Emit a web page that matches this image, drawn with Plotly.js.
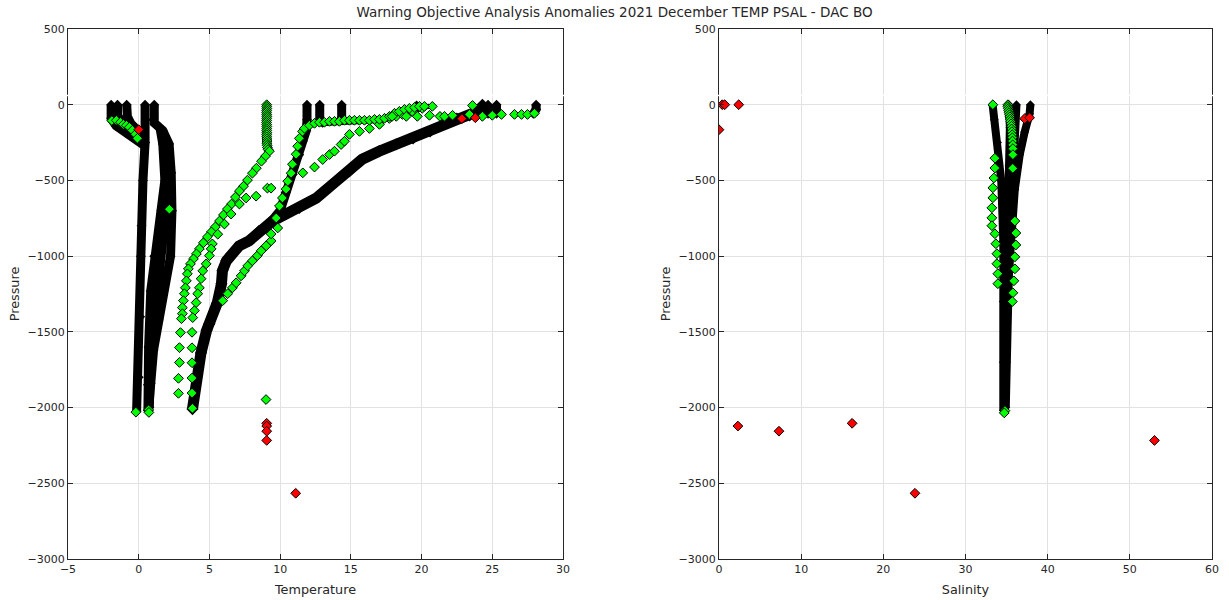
<!DOCTYPE html>
<html>
<head>
<meta charset="utf-8">
<script src="https://cdn.plot.ly/plotly-3.0.1.min.js"></script>
<style>
  html, body { margin: 0; padding: 0; background: #fff; }
  #chart { width: 1229px; height: 600px; }
</style>
</head>
<body>
<div id="chart"></div>
<script>
// ---------- Temperature profiles (black, dense float profiles) ----------
const coldA_T = [0.45, 0.5, 0.45, 0.3, 0.2, 0.15, 0.1, 0.0, -0.15];
const coldA_P = [0, -100, -250, -500, -800, -1000, -1400, -1800, -2025];
const coldB_T = [1.1, 1.1, 1.7, 2.15, 2.3, 2.35, 2.25, 1.75, 1.4, 1.05, 0.85, 0.7];
const coldB_P = [0, -120, -170, -260, -450, -700, -1000, -1230, -1420, -1620, -1840, -2020];
const coldC_T = [1.5, 1.7, 1.85, 1.6, 1.1, 0.85, 0.7, 0.65, 0.65];
const coldC_P = [-150, -260, -500, -700, -1000, -1230, -1600, -1850, -2020];
const coldD_T = [2.0, 2.05, 1.7, 1.3, 1.0, 0.8, 0.75];
const coldD_P = [-300, -600, -900, -1200, -1500, -1800, -2000];
const lobe1_T = [-1.95, -1.95, -1.6, -0.9, -0.1, 0.4];
const lobe1_P = [0, -90, -140, -185, -225, -270];
const lobe2_T = [-1.5, -1.5, -1.2];
const lobe2_P = [0, -70, -120];
const lobe3_T = [-0.85, -0.8, -0.55, -0.1, 0.35];
const lobe3_P = [0, -80, -125, -165, -210];

const warmA_T = [3.8, 4.05, 4.4, 4.8, 5.0, 5.55, 5.85, 5.92, 6.2, 6.55, 7.1, 7.8, 8.5, 9.45, 10.4, 11.35, 12.55, 13.7, 14.9, 15.8, 17.0, 18.2, 19.4, 20.6, 21.7, 22.5, 23.4, 24.3, 24.3];
const warmA_P = [-2010, -1820, -1640, -1490, -1447, -1310, -1183, -1097, -1031, -986, -932, -899, -834, -768, -722, -682, -617, -526, -439, -360, -307, -261, -222, -176, -124, -91, -70, -30, 0];
const warmB_T = [7.8, 9.2, 10.0, 10.4, 10.9, 11.35, 11.6, 11.85, 11.9, 11.9];
const warmB_P = [-900, -790, -700, -580, -460, -330, -240, -170, -100, 0];
const warmC_T = [12.9, 14.0, 15.5, 17.0, 17.8, 18.8, 19.8, 20.5];
const warmC_P = [-125, -118, -112, -105, -90, -55, -30, -10];

const stub1_T = [12.8, 12.8, 13.0];   const stub1_P = [0, -100, -120];
const stub2_T = [14.35, 14.35];       const stub2_P = [0, -85];
const stub3_T = [24.7, 24.7];         const stub3_P = [0, -60];
const stub4_T = [25.3, 25.3];         const stub4_P = [0, -60];
const stub5_T = [27.9, 28.1, 28.1];   const stub5_P = [-60, -30, 0];
const stub6_T = [19.65];              const stub6_P = [-5];

// ---------- Temperature: flagged (green) levels ----------
const gCold_T = [-1.9, -1.58, -1.29, -1.08, -0.87, -0.66, -0.45, -0.23, -0.09, 2.17, -0.2, 0.7, 0.72, 3.8];
const gCold_P = [-105, -103, -116, -130, -136, -149, -169, -195, -222, -690, -2030, -2015, -2032, -2005];
const gCol9_T = [9.05, 9.05, 9.06, 9.05, 9.04, 9.05, 9.06, 9.05, 9.05, 9.04, 9.05, 9.06, 9.05, 9.05, 9.06, 9.05, 9.05, 9.06, 9.07, 9.06, 9.08, 9.1, 9.15];
const gCol9_P = [0, -12, -25, -38, -50, -64, -77, -90, -104, -117, -131, -144, -158, -171, -185, -198, -212, -226, -240, -254, -268, -282, -296];
const gDiag_T = [9.24, 8.96, 8.68, 8.32, 8.04, 7.69, 7.41, 7.12, 6.84, 6.56, 6.27, 5.99, 5.71, 5.42, 5.14, 4.86, 4.57, 4.29, 4.08, 3.87, 3.66, 3.51, 3.44, 3.37, 3.30, 3.23, 3.16, 3.09, 3.09, 3.02, 2.95, 2.88, 2.88, 2.81, 2.81];
const gDiag_P = [-307, -340, -373, -419, -452, -498, -538, -570, -610, -656, -689, -728, -768, -807, -840, -873, -912, -952, -985, -1018, -1051, -1084, -1117, -1163, -1209, -1248, -1294, -1340, -1380, -1413, -1505, -1604, -1702, -1807, -1906];
const gMid_T = [7.59, 7.12, 6.53, 6.06, 5.59, 5.21, 5.12, 5.0, 4.77, 4.53, 4.41, 4.29, 4.17, 4.06, 3.94, 3.82, 3.77, 3.77, 3.77, 3.77, 3.77];
const gMid_P = [-616, -656, -722, -788, -855, -919, -952, -997, -1051, -1097, -1149, -1209, -1248, -1307, -1360, -1406, -1503, -1605, -1704, -1805, -1904];
const gCross_T = [5.94, 6.29, 6.63, 6.89, 7.24, 7.48, 7.71, 8.04, 8.39, 8.66, 9.01, 9.36, 9.36, 9.83, 9.72, 9.95, 10.16, 10.42, 10.54, 10.78, 10.87, 11.13, 11.24, 11.36, 11.58];
const gCross_P = [-1294, -1248, -1209, -1176, -1130, -1097, -1064, -1031, -997, -965, -932, -899, -853, -814, -748, -669, -616, -557, -505, -452, -393, -327, -274, -222, -176];
const gIso_T = [8.30, 9.10, 9.36, 9.0];
const gIso_P = [-604, -551, -551, -1947];
const gUpper_T = [11.6, 12.43, 13.01, 13.49, 13.84, 14.31, 14.55, 14.9, 15.61, 16.31, 17.02, 17.72, 18.21, 18.64, 19.35, 20.05, 20.76];
const gUpper_P = [-450, -412, -362, -329, -307, -263, -241, -196, -176, -157, -130, -91, -77, -64, -44, -24, -11];
const gBand_T = [11.72, 12.07, 12.43, 12.78, 13.13, 13.49, 13.84, 14.19, 14.55, 14.90, 15.25, 15.61, 15.96, 16.31, 16.67, 17.02, 17.38, 17.73, 18.08, 18.43, 18.79, 19.14, 19.50, 19.85, 20.20];
const gBand_P = [-156, -136, -123, -116, -116, -110, -110, -110, -103, -103, -103, -103, -103, -103, -97, -97, -90, -77, -57, -44, -31, -24, -18, -11, -11];
const gSurf_T = [17.92, 18.92, 19.7, 20.56, 21.3, 21.62, 22.19, 23.39, 23.6, 24.3, 25.0, 25.65, 26.57, 27.07, 27.49, 27.98];
const gSurf_P = [-77, -77, -77, -70, -77, -77, -70, -64, -5, -77, -70, -64, -64, -64, -64, -57];

// ---------- Rejected levels (red), shared by both panels ----------
const redP = [-165, -2104, -2122, -2156, -2217, -2566, -92, -86];
const redT = [0.0, 9.05, 9.05, 9.05, 9.05, 11.1, 22.85, 23.8];
const redS = [0.0, 16.2, 2.3, 7.3, 53.0, 23.85, 37.2, 37.8];
const redSurfS = [0.4, 0.7, 2.4];
const redSurfP = [0, 0, 0];

// ---------- Salinity profiles (black) ----------
const salA_S = [33.3, 33.5, 33.9, 34.35, 34.6, 34.6, 34.6, 34.6];
const salA_P = [0, -100, -250, -500, -900, -1300, -1700, -2020];
const salB_S = [35.3, 35.4, 35.3, 35.1, 34.9, 34.85, 34.8];
const salB_P = [0, -150, -400, -800, -1200, -1700, -2025];
const salC_S = [36.2, 36.0, 35.7, 35.4, 35.2, 35.0, 34.9];
const salC_P = [0, -200, -500, -900, -1300, -1700, -2000];
const salD_S = [37.9, 37.8, 37.2, 36.6, 36.0, 35.6, 35.3];
const salD_P = [0, -60, -180, -330, -560, -800, -1100];

// ---------- Salinity: flagged (green) levels ----------
const gSalTop_S = [33.33, 35.16];
const gSalTop_P = [0, 0];
const gSalCol_S = [35.16, 35.2, 35.25, 35.3, 35.35, 35.4, 35.45, 35.5, 35.55, 35.6, 35.62, 35.65, 35.68, 35.7, 35.72, 35.75, 35.77, 35.77, 35.75];
const gSalCol_P = [-12, -25, -38, -52, -66, -80, -95, -110, -126, -142, -160, -178, -198, -218, -240, -265, -290, -330, -420];
const gSalLeft_S = [33.58, 33.58, 33.45, 33.33, 33.33, 33.21, 33.21, 33.21, 33.58, 33.7, 33.82, 33.82, 33.94, 33.94];
const gSalLeft_P = [-353, -418, -484, -549, -615, -681, -747, -799, -852, -918, -984, -1050, -1116, -1182];
const gSalRight_S = [36.01, 36.13, 36.13, 36.01, 36.01, 35.89, 35.77, 35.7];
const gSalRight_P = [-768, -847, -926, -1005, -1084, -1163, -1242, -1300];
const gSalBot_S = [34.8, 34.72];
const gSalBot_P = [-2020, -2035];

const pressureTicks = [-3000, -2500, -2000, -1500, -1000, -500, 0, 500];
const tempTicks = [-5, 0, 5, 10, 15, 20, 25, 30];
const salTicks = [0, 10, 20, 30, 40, 50, 60];

// ---------- trace builders ----------
function profile(x, y, width, xa, ya) {
  return {
    x: x, y: y, xaxis: xa, yaxis: ya, type: 'scatter', mode: 'lines+markers',
    line: { color: '#000', width: width },
    marker: { symbol: 'diamond', size: width * 0.85, color: '#000' },
    hoverinfo: 'skip'
  };
}
function dots(x, y, fill, xa, ya) {
  return {
    x: x, y: y, xaxis: xa, yaxis: ya, type: 'scatter', mode: 'markers',
    marker: { symbol: 'diamond', size: 7.5, color: fill, line: { color: '#000', width: 1 } },
    hoverinfo: 'skip'
  };
}

const GREEN = '#00ff00';
const RED = '#ff0000';

const traces = [
  profile(coldA_T, coldA_P, 9, 'x', 'y'),
  profile(coldB_T, coldB_P, 9, 'x', 'y'),
  profile(coldC_T, coldC_P, 9, 'x', 'y'),
  profile(coldD_T, coldD_P, 9, 'x', 'y'),
  profile(lobe1_T, lobe1_P, 9, 'x', 'y'),
  profile(lobe2_T, lobe2_P, 9, 'x', 'y'),
  profile(lobe3_T, lobe3_P, 9, 'x', 'y'),
  profile(warmA_T, warmA_P, 11, 'x', 'y'),
  profile(warmB_T, warmB_P, 9, 'x', 'y'),
  profile(warmC_T, warmC_P, 5, 'x', 'y'),
  profile(stub1_T, stub1_P, 9, 'x', 'y'),
  profile(stub2_T, stub2_P, 9, 'x', 'y'),
  profile(stub3_T, stub3_P, 9, 'x', 'y'),
  profile(stub4_T, stub4_P, 9, 'x', 'y'),
  profile(stub5_T, stub5_P, 9, 'x', 'y'),
  profile(stub6_T, stub6_P, 9, 'x', 'y'),

  dots(gCold_T, gCold_P, GREEN, 'x', 'y'),
  dots(gCol9_T, gCol9_P, GREEN, 'x', 'y'),
  dots(gDiag_T, gDiag_P, GREEN, 'x', 'y'),
  dots(gMid_T, gMid_P, GREEN, 'x', 'y'),
  dots(gCross_T, gCross_P, GREEN, 'x', 'y'),
  dots(gIso_T, gIso_P, GREEN, 'x', 'y'),
  dots(gUpper_T, gUpper_P, GREEN, 'x', 'y'),
  dots(gBand_T, gBand_P, GREEN, 'x', 'y'),
  dots(gSurf_T, gSurf_P, GREEN, 'x', 'y'),
  dots(redT, redP, RED, 'x', 'y'),

  profile(salA_S, salA_P, 8, 'x2', 'y2'),
  profile(salB_S, salB_P, 8, 'x2', 'y2'),
  profile(salC_S, salC_P, 8, 'x2', 'y2'),
  profile(salD_S, salD_P, 8, 'x2', 'y2'),
  dots(gSalTop_S, gSalTop_P, GREEN, 'x2', 'y2'),
  dots(gSalCol_S, gSalCol_P, GREEN, 'x2', 'y2'),
  dots(gSalLeft_S, gSalLeft_P, GREEN, 'x2', 'y2'),
  dots(gSalRight_S, gSalRight_P, GREEN, 'x2', 'y2'),
  dots(gSalBot_S, gSalBot_P, GREEN, 'x2', 'y2'),
  dots(redS, redP, RED, 'x2', 'y2'),
  dots(redSurfS, redSurfP, RED, 'x2', 'y2')
];

const AXC = '#262626';
const FONT = 'DejaVu Sans, Verdana, sans-serif';
function axisBase(extra) {
  return Object.assign({
    showgrid: true, gridcolor: '#e2e2e2', gridwidth: 1,
    zeroline: false, showline: true, linecolor: AXC, linewidth: 1,
    mirror: 'ticks', ticks: 'inside', ticklen: 5, tickcolor: AXC, tickwidth: 1,
    tickfont: { family: FONT, size: 11, color: AXC }, fixedrange: true
  }, extra);
}

const layout = {
  width: 1229, height: 600,
  margin: { l: 0, r: 0, t: 29, b: 41 },
  paper_bgcolor: '#fff', plot_bgcolor: '#fff',
  showlegend: false,
  font: { family: FONT, size: 11, color: AXC },
  title: {
    text: 'Warning Objective Analysis Anomalies 2021 December TEMP PSAL - DAC BO',
    x: 0.5, xref: 'paper', xanchor: 'center',
    y: 0.98, yref: 'container', yanchor: 'middle',
    font: { family: FONT, size: 13.5, color: AXC }
  },
  xaxis: axisBase({
    domain: [68 / 1229, 563 / 1229], range: [-5, 30], tickvals: tempTicks,
    anchor: 'y', title: { text: 'Temperature', font: { family: FONT, size: 12.8, color: AXC }, standoff: 9 }
  }),
  yaxis: axisBase({
    domain: [0, 1], range: [-3000, 500], tickvals: pressureTicks,
    anchor: 'x', title: { text: 'Pressure', font: { family: FONT, size: 12.8, color: AXC }, standoff: 5 }
  }),
  xaxis2: axisBase({
    domain: [719 / 1229, 1212 / 1229], range: [0, 60], tickvals: salTicks,
    anchor: 'y2', title: { text: 'Salinity', font: { family: FONT, size: 12.8, color: AXC }, standoff: 9 }
  }),
  yaxis2: axisBase({
    domain: [0, 1], range: [-3000, 500], tickvals: pressureTicks,
    anchor: 'x2', title: { text: 'Pressure', font: { family: FONT, size: 12.8, color: AXC }, standoff: 5 }
  }),
  shapes: [
    { type: 'line', xref: 'paper', yref: 'paper', x0: 0, x1: 1, y0: 0.8745, y1: 0.8745,
      line: { color: '#fff', width: 1.5 }, layer: 'above' }
  ]
};

Plotly.newPlot('chart', traces, layout, { staticPlot: true, displayModeBar: false });
</script>
</body>
</html>
